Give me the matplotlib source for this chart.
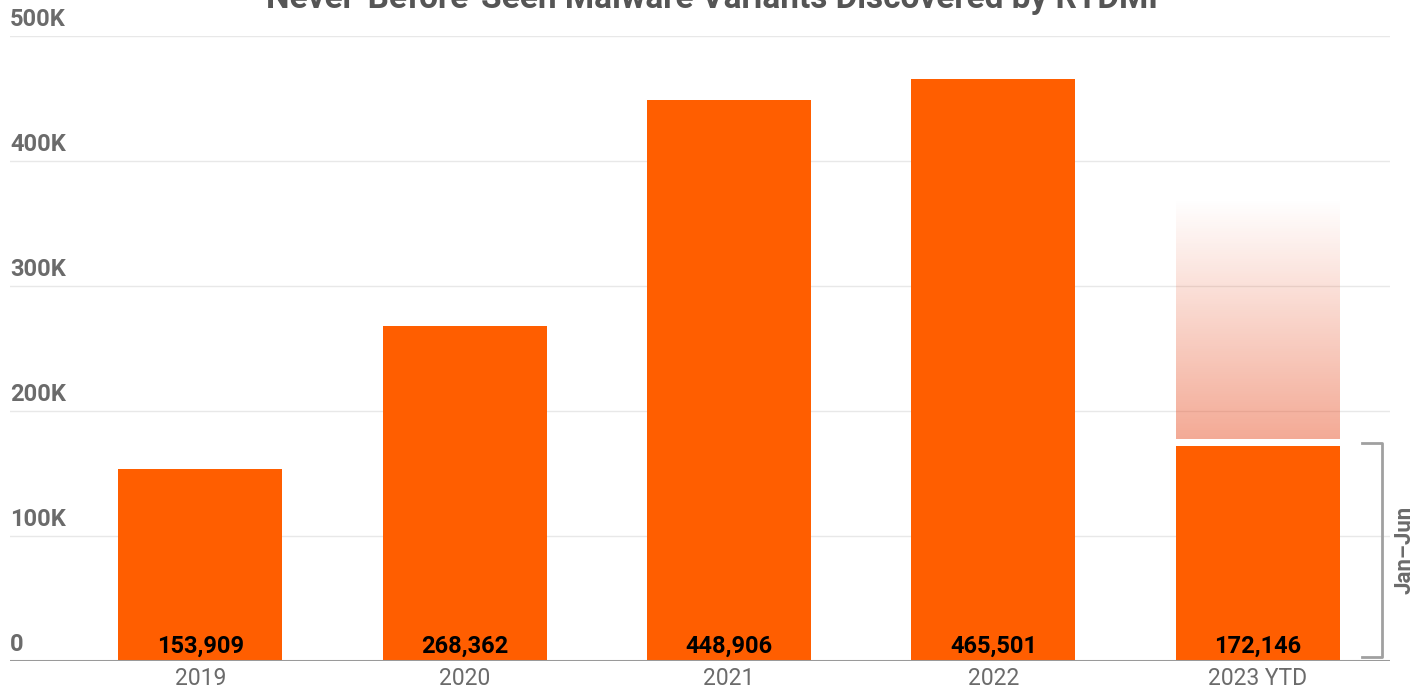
import numpy as np
import matplotlib.pyplot as plt
from matplotlib.transforms import blended_transform_factory

plt.rcParams['font.family'] = ['Roboto', 'DejaVu Sans']

# ── data ──────────────────────────────────────────────────────────────────────
years = ["2019", "2020", "2021", "2022", "2023 YTD"]
variants = [153909, 268362, 448906, 465501, 172146]
# faded "rest of year" projection on top of the YTD bar
proj_start = 178000
proj_end = 370000
y_ticks = [0, 100000, 200000, 300000, 400000, 500000]
y_tick_labels = ["0", "100K", "200K", "300K", "400K", "500K"]
title = "Never-Before-Seen Malware Variants Discovered by RTDMI"
bracket_label = "Jan\u2013Jun"

ORANGE = "#FF5E00"
FADE = (0.91, 0.33, 0.17)
GRAY = "#6b6b6b"

W, H = 1424, 688
fig = plt.figure(figsize=(W / 100, H / 100), dpi=100)
ax = fig.add_axes([10 / W, (H - 661) / H, 1380 / W, 625 / H])

x = np.arange(len(years))
ax.bar(x, variants, width=0.62, color=ORANGE, zorder=3)

# gradient projection bar
last = len(years) - 1
n = 256
grad = np.zeros((n, 1, 4))
grad[:, 0, :3] = FADE
grad[:, 0, 3] = np.linspace(0.5, 0.0, n)
ax.imshow(grad, extent=(last - 0.31, last + 0.31, proj_start, proj_end),
          origin="lower", aspect="auto", interpolation="bilinear", zorder=3)
ax.set_xlim(-0.72, 4.5)
ax.set_ylim(0, 500000)

# gridlines & baseline
for t in y_ticks[1:]:
    ax.axhline(t, color="#e8e8e8", lw=1, zorder=1)
ax.axhline(0, color="#9a9a9a", lw=2.2, zorder=4)

for s in ax.spines.values():
    s.set_visible(False)
ax.set_xticks([])
ax.set_yticks([])

# y tick labels, sitting above their gridline
trans = blended_transform_factory(ax.transAxes, ax.transData)
for t, lab in zip(y_ticks, y_tick_labels):
    ax.text(0, t + 4000, lab, transform=trans, ha="left", va="bottom",
            fontsize=17, fontweight="bold", color=GRAY)

# value labels inside bars and x category labels
for xi, v, yr in zip(x, variants, years):
    ax.text(xi, 2500, f"{v:,}", ha="center", va="bottom", fontsize=17,
            fontweight="bold", color="black", zorder=5)
    ax.text(xi, -5000, yr, ha="center", va="top", fontsize=16.5,
            color=GRAY, zorder=5, clip_on=False)

# bracket for partial year
br_x = 4.47
tick_x = 4.395
lo, hi = 3000, variants[last] + 2000
ax.plot([tick_x, br_x, br_x, tick_x], [hi, hi, lo, lo], color="#a0a0a0",
        lw=2, clip_on=False, zorder=5)
ax.text(4.555, (lo + hi) / 2, bracket_label, rotation=90, ha="center",
        va="center", fontsize=16, fontweight="bold", color=GRAY, clip_on=False)

fig.text(0.5, 1 - 8 / H, title, ha="center", va="baseline", fontsize=24,
         fontweight="bold", color="#555555")

fig.savefig("out.png", dpi=100)
